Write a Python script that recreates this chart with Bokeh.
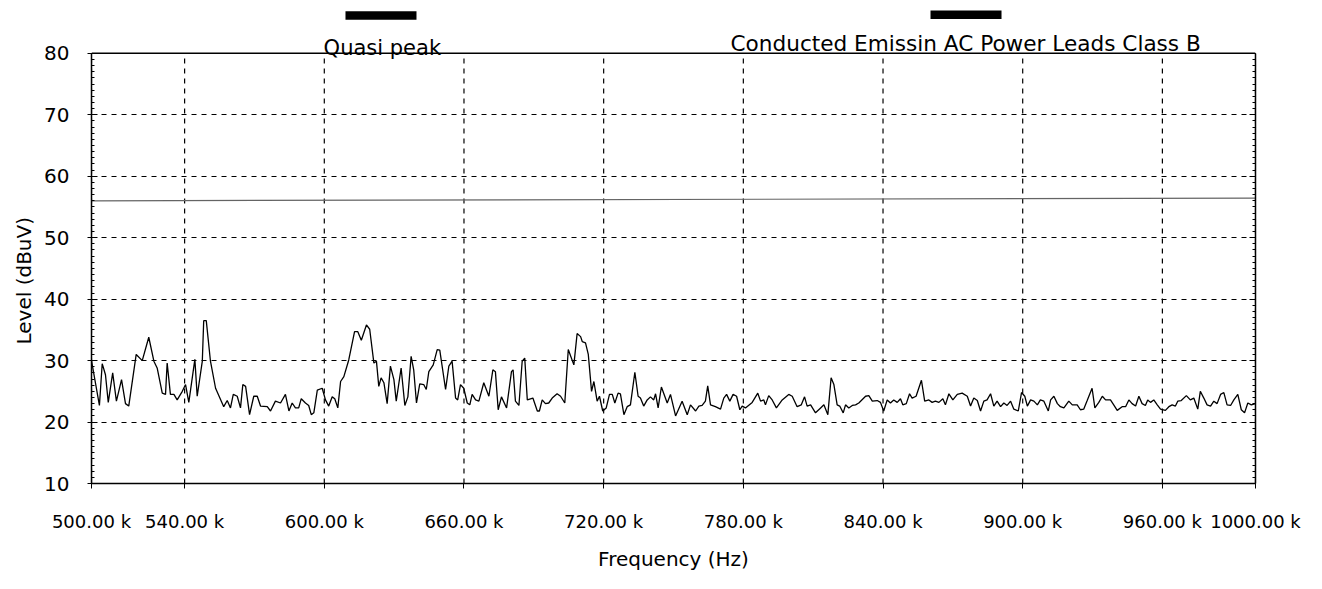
from bokeh.plotting import figure
from bokeh.models import Range1d, FixedTicker, LinearAxis, Span, Title
from bokeh.core.properties import value
from bokeh.embed import file_html
from bokeh.resources import INLINE

# ---------------- data ----------------
freq_khz = [
    500.0, 503.4, 504.6, 506.0, 507.2, 509.1, 510.7, 512.9, 514.6, 516.0,
    519.2, 521.8, 524.6, 526.8, 528.2, 530.4, 531.8, 532.5, 533.9, 535.4,
    536.8, 539.0, 540.4, 541.8, 544.4, 545.4, 547.6, 548.2, 549.3, 551.1,
    553.3, 556.8, 558.3, 559.7, 560.9, 562.6, 564.0, 565.0, 566.2, 567.9,
    569.7, 571.2, 572.6, 575.5, 576.9, 579.0,
    581.2, 583.3, 584.8, 586.2, 587.6, 589.0, 590.1, 591.9, 593.3, 594.4,
    595.5, 597.0, 599.1, 600.5, 601.9, 603.4, 604.5, 605.8, 607.0, 608.4,
    610.5, 613.0, 614.4, 615.9, 618.1, 619.5, 621.3, 622.4, 623.4, 624.4,
    625.6, 627.0, 628.4, 629.9, 630.9, 633.0, 634.6, 635.9, 637.3, 638.4,
    639.6, 641.0, 642.7, 643.8, 644.9, 646.8, 648.5, 649.6, 652.1, 653.5,
    654.9, 656.4, 657.3, 658.5, 659.9, 661.4, 662.5, 663.5,
    665.0, 666.4, 668.5, 670.7, 672.4, 673.5, 674.7, 676.1, 678.3, 680.4,
    681.1, 682.1, 683.6, 685.0, 686.1, 687.2, 689.6, 691.5, 692.4, 693.6,
    695.0, 696.4, 697.9, 700.0, 701.5, 703.3, 704.8, 707.2, 708.6, 710.1,
    710.8, 712.2, 713.4, 714.8, 715.8, 717.2, 718.2, 719.6, 721.1, 722.5,
    723.7, 724.8, 726.2, 727.2, 728.7, 730.1, 731.5, 733.4, 734.8, 735.8,
    737.2, 738.7, 740.1, 741.5, 742.3, 743.4, 744.8, 747.3,
    748.7, 750.9, 753.7, 755.9, 757.3, 759.5, 760.9, 762.3, 763.7, 764.7,
    765.9, 768.0, 770.2, 771.6, 772.8, 774.2, 775.6, 777.1, 778.5, 779.5,
    780.9, 783.8, 786.2, 787.4, 788.8, 789.5, 790.9, 792.4, 794.2, 796.7,
    799.5, 801.0, 803.1, 804.9, 806.3, 807.4, 808.9, 811.0, 813.2, 814.6,
    816.3, 817.7, 818.9, 820.3, 821.4, 822.9, 823.9, 825.3, 826.8, 828.2,
    829.6,
    832.5, 833.9, 835.4, 837.5, 838.9, 840.3, 841.8, 843.2, 844.6, 846.1,
    847.5, 848.5, 850.0, 851.4, 852.5, 854.2, 856.5, 857.9, 859.7, 861.1,
    862.5, 864.0, 865.7, 866.8, 868.3, 870.0, 871.9, 874.0, 876.2, 877.6,
    879.0, 880.5, 881.9, 883.3, 884.7, 886.2, 887.6, 889.0, 890.5, 891.9,
    893.3, 894.8, 896.2, 898.1, 899.5, 900.9, 902.0, 903.4, 904.8, 906.3,
    907.6, 909.1, 911.0, 912.0, 913.4, 914.9,
    916.2, 917.7, 919.8, 921.3, 923.4, 924.8, 926.2, 927.7, 929.8, 931.0,
    932.7, 934.2, 935.6, 937.7, 939.1, 940.6, 942.7, 944.2, 945.6, 947.0,
    948.5, 949.9, 951.3, 952.7, 953.7, 954.9, 956.3, 957.8, 959.2, 961.3,
    962.8, 964.2, 965.6, 966.6, 968.1, 970.3, 972.0, 973.5, 975.2, 976.3,
    977.8, 979.2, 980.7, 982.1, 983.5, 985.0, 986.4, 987.8, 989.3, 990.7,
    992.4, 993.9, 995.3, 996.7, 998.2, 1000.0,
]

level_dbuv = [
    30.0, 22.7, 29.5, 27.7, 23.2, 28.0, 23.4, 26.9, 23.0, 22.6,
    31.0, 30.0, 33.8, 29.9, 28.8, 24.7, 24.5, 29.6, 24.5, 24.5,
    23.6, 25.0, 26.1, 23.2, 30.2, 24.2, 29.9, 36.5, 36.5, 29.9,
    25.5, 22.5, 23.5, 22.3, 24.5, 24.2, 22.3, 26.1, 25.8, 21.2,
    24.2, 24.2, 22.6, 22.5, 21.8, 23.4,
    23.1, 24.5, 21.8, 23.1, 22.3, 22.3, 23.8, 23.1, 22.7, 21.2,
    21.5, 25.2, 25.5, 23.6, 22.6, 24.1, 23.8, 22.3, 26.6, 27.4,
    30.1, 34.7, 34.7, 33.3, 35.8, 35.1, 29.6, 29.9, 25.8, 27.2,
    26.4, 23.0, 29.1, 26.9, 23.4, 28.8, 22.7, 24.1, 30.7, 28.5,
    23.1, 26.2, 26.1, 25.3, 28.2, 29.3, 31.8, 31.7, 25.3, 29.1,
    29.9, 23.9, 23.6, 26.1, 25.5, 23.1, 22.8, 24.5,
    23.6, 23.4, 26.4, 24.2, 28.5, 28.2, 22.0, 24.1, 22.3, 28.2,
    28.5, 23.4, 22.7, 29.9, 30.4, 23.6, 23.9, 21.8, 21.8, 23.6,
    23.0, 23.1, 23.9, 24.6, 24.2, 23.1, 31.8, 29.3, 34.4, 33.9,
    33.1, 32.9, 31.0, 25.0, 26.6, 23.4, 24.2, 21.8, 22.3, 24.5,
    24.5, 23.1, 24.7, 24.6, 21.2, 22.5, 22.8, 28.1, 24.2, 23.9,
    22.6, 23.6, 24.1, 23.6, 24.6, 22.3, 25.7, 23.1,
    24.5, 21.0, 23.4, 21.2, 22.8, 21.8, 22.6, 22.7, 23.4, 25.9,
    22.8, 22.5, 22.1, 23.9, 24.5, 23.4, 24.5, 24.2, 22.0, 22.6,
    22.3, 23.2, 24.7, 23.4, 23.6, 22.8, 24.3, 23.6, 22.3, 23.6,
    24.5, 24.2, 22.5, 22.8, 24.1, 22.6, 22.8, 21.5, 22.3, 22.8,
    21.2, 27.2, 26.1, 22.8, 22.6, 21.5, 22.8, 22.3, 22.7, 22.8,
    23.1,
    24.2, 24.3, 23.4, 23.5, 23.2, 21.8, 23.6, 23.1, 23.6, 23.2,
    23.8, 22.8, 23.0, 24.6, 23.9, 24.2, 26.8, 23.4, 23.6, 23.2,
    23.4, 23.2, 23.8, 22.8, 24.6, 23.6, 24.5, 24.7, 24.2, 22.6,
    23.9, 23.5, 21.8, 23.4, 23.6, 24.6, 22.6, 23.4, 22.5, 23.1,
    22.7, 23.4, 22.1, 21.8, 24.8, 24.2, 22.6, 23.6, 23.4, 22.8,
    23.6, 23.4, 21.8, 23.6, 24.2, 23.0,
    22.5, 22.3, 23.4, 22.8, 22.8, 22.0, 22.1, 23.5, 25.5, 22.3,
    23.2, 24.2, 23.6, 23.6, 22.8, 21.9, 22.5, 22.5, 23.6, 23.0,
    22.6, 24.2, 23.0, 22.7, 23.6, 23.2, 23.6, 22.8, 22.1, 21.9,
    22.5, 22.8, 22.6, 23.4, 23.5, 24.3, 23.6, 23.9, 22.1, 25.0,
    23.9, 22.8, 22.6, 23.4, 23.0, 24.5, 24.8, 22.8, 22.7, 23.6,
    24.5, 22.0, 21.5, 23.1, 22.8, 23.0,
]

limit_freq_khz = [500.0, 1000.0]
limit_dbuv = [56.0, 56.45]

x_ticks_khz = [500, 540, 600, 660, 720, 780, 840, 900, 960, 1000]
x_tick_labels = ["500.00 k", "540.00 k", "600.00 k", "660.00 k", "720.00 k",
                 "780.00 k", "840.00 k", "900.00 k", "960.00 k", "1000.00 k"]
y_ticks = [10, 20, 30, 40, 50, 60, 70, 80]
y_minor_ticks = list(range(10, 81))

legend_labels = ["Quasi peak", "Conducted Emissin  AC Power Leads Class B"]
x_axis_title = "Frequency (Hz)"
y_axis_title = "Level (dBuV)"

FONT = "DejaVu Sans"
X_MIN, X_MAX = 500000, 1000000
Y_MIN, Y_MAX = 10, 80
Y_TOP = 88.6   # room above the 80 border for the legend strip

x_hz = [f * 1000.0 for f in freq_khz]
limit_x_hz = [f * 1000.0 for f in limit_freq_khz]
x_ticks_hz = [t * 1000 for t in x_ticks_khz]

p = figure(width=1306, height=573,
           x_range=Range1d(X_MIN, X_MAX), y_range=Range1d(Y_MIN, Y_TOP),
           output_backend="svg", toolbar_location=None,
           min_border_left=91, min_border_right=51, min_border_top=0, min_border_bottom=89,
           background_fill_color="white", border_fill_color="white",
           outline_line_color=None)

# grids: horizontal via Grid, vertical as dashed segments limited to the 10..80 box
p.xgrid.visible = False
p.ygrid.ticker = FixedTicker(ticks=y_ticks)
p.ygrid.grid_line_color = "black"
p.ygrid.grid_line_dash = "5 5"
p.ygrid.grid_line_width = 1.2
p.segment(x0=x_ticks_hz, y0=[Y_MIN] * len(x_ticks_hz), x1=x_ticks_hz, y1=[Y_MAX] * len(x_ticks_hz),
          line_color="black", line_dash="5 5", line_width=1.2)

# top border of the plot box
p.add_layout(Span(location=Y_MAX, dimension="width", line_color="black", line_width=1.5))

p.line(limit_x_hz, limit_dbuv, line_color="#646464", line_width=1.2)
p.line(x_hz, level_dbuv, line_color="black", line_width=1.3)

# x axis
xa = p.xaxis[0]
xa.ticker = FixedTicker(ticks=x_ticks_hz)
xa.major_label_overrides = {t: lab for t, lab in zip(x_ticks_hz, x_tick_labels)}
xa.axis_label = x_axis_title
xa.axis_label_text_font = FONT
xa.axis_label_text_font_size = "20px"
xa.axis_label_text_font_style = "normal"
xa.axis_label_text_color = "black"
xa.axis_label_standoff = 12
xa.major_label_text_font = FONT
xa.major_label_text_font_size = "18px"
xa.major_label_text_color = "black"
xa.major_label_standoff = 5
xa.axis_line_color = "black"
xa.axis_line_width = 1.5
xa.major_tick_in = 0
xa.major_tick_out = 22
xa.major_tick_line_dash = "0 17 5"
xa.major_tick_line_color = "black"
xa.minor_tick_line_color = None

# y axis (its title is placed as a left Title so it can sit beside the 10..80 box)
ya = p.yaxis[0]
ya.ticker = FixedTicker(ticks=y_ticks, minor_ticks=y_minor_ticks)
ya.bounds = (Y_MIN, Y_MAX)
ya.major_label_text_font = FONT
ya.major_label_text_font_size = "20px"
ya.major_label_text_color = "black"
ya.major_label_standoff = 18
ya.axis_line_color = "black"
ya.axis_line_width = 1.5
ya.major_tick_in = 6
ya.major_tick_out = 4
ya.minor_tick_in = 3
ya.minor_tick_out = 0
ya.major_tick_line_color = "black"
ya.minor_tick_line_color = "black"

p.add_layout(Title(text=y_axis_title, align="left", offset=139, standoff=12,
                   text_font=FONT, text_font_size="20px", text_font_style="normal",
                   text_color="black"), "left")

# right border with ticks
ra = LinearAxis(ticker=FixedTicker(ticks=y_ticks, minor_ticks=y_minor_ticks),
                bounds=(Y_MIN, Y_MAX),
                major_label_overrides={t: "" for t in y_ticks},
                axis_line_color="black", axis_line_width=1.5,
                major_tick_in=6, major_tick_out=0, minor_tick_in=3, minor_tick_out=0,
                major_tick_line_color="black", minor_tick_line_color="black",
                major_label_standoff=0)
p.add_layout(ra, "right")

# ---------------- legend strip above the box ----------------
bar_left_khz = [609.1, 860.4]
bar_right_khz = [639.6, 890.9]
bar_bottom = [85.47, 85.59]
bar_top = [86.87, 86.98]
p.quad(left=[v * 1000 for v in bar_left_khz], right=[v * 1000 for v in bar_right_khz],
       bottom=bar_bottom, top=bar_top, color="black", line_color=None)

p.text(x=[599.7 * 1000], y=[80.8], text=[legend_labels[0]],
       text_font=value(FONT), text_font_size="21px", text_color="black",
       text_align="left", text_baseline="alphabetic")
p.text(x=[774.5 * 1000], y=[81.55], text=[legend_labels[1]],
       text_font=value(FONT), text_font_size="21.6px", text_color="black",
       text_align="left", text_baseline="alphabetic")

open("out.html", "w").write(file_html(p, INLINE))
